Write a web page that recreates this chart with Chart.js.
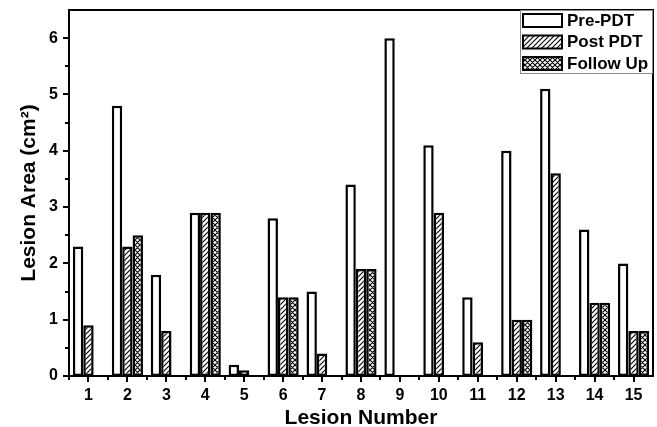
<!DOCTYPE html>
<html><head><meta charset="utf-8">
<script src="https://cdn.jsdelivr.net/npm/chart.js@4.4.1/dist/chart.umd.min.js"></script>
<style>html,body{margin:0;padding:0;background:#fff}#wrap{width:657px;height:427px}</style>
</head><body><div id="wrap"><canvas id="c" width="657" height="427"></canvas></div>
<script>
const categories = ['1','2','3','4','5','6','7','8','9','10','11','12','13','14','15'];
const prePDT   = [2.3, 4.8, 1.8, 2.9, 0.2, 2.8, 1.5, 3.4, 6.0, 4.1, 1.4, 4.0, 5.1, 2.6, 2.0];
const postPDT  = [0.9, 2.3, 0.8, 2.9, 0.1, 1.4, 0.4, 1.9, null, 2.9, 0.6, 1.0, 3.6, 1.3, 0.8];
const followUp = [null, 2.5, null, 2.9, null, 1.4, null, 1.9, null, null, null, 1.0, null, 1.3, 0.8];
const seriesNames = ['Pre-PDT', 'Post PDT', 'Follow Up'];
const yTickValues = [0, 1, 2, 3, 4, 5, 6];

const FONT = '"Liberation Sans", Arial, sans-serif';
const canvas = document.getElementById('c');
const ctx = canvas.getContext('2d');

function makePattern(cross) {
  const s = 5;
  const c = document.createElement('canvas'); c.width = s; c.height = s;
  const g = c.getContext('2d');
  g.fillStyle = '#fff'; g.fillRect(0, 0, s, s);
  g.strokeStyle = '#000'; g.lineWidth = cross ? 1.1 : 1.1;
  g.beginPath();
  g.moveTo(-1, s + 1); g.lineTo(s + 1, -1);
  g.moveTo(-1, 1); g.lineTo(1, -1);
  g.moveTo(s - 1, s + 1); g.lineTo(s + 1, s - 1);
  if (cross) {
    g.moveTo(-1, -1); g.lineTo(s + 1, s + 1);
    g.moveTo(s - 1, -1); g.lineTo(s + 1, 1);
    g.moveTo(-1, s - 1); g.lineTo(1, s + 1);
  }
  g.stroke();
  return ctx.createPattern(c, 'repeat');
}
const fills = ['#ffffff', makePattern(false), makePattern(true)];

const framePlugin = {
  id: 'frame',
  afterDraw(chart) {
    const {ctx, chartArea: a, scales: {x, y}} = chart;
    ctx.save();
    ctx.strokeStyle = '#000';
    ctx.lineWidth = 2;
    ctx.strokeRect(a.left, a.top, a.right - a.left, a.bottom - a.top);
    ctx.beginPath();
    for (let v = 0; v <= 6.0001; v += 0.5) {
      const py = Math.round(y.getPixelForValue(v));
      const len = (Math.abs(v - Math.round(v)) < 1e-6) ? 6 : 4;
      ctx.moveTo(a.left, py); ctx.lineTo(a.left - len, py);
    }
    for (let i = 0; i < categories.length; i++) {
      const px = Math.round(x.getPixelForValue(i));
      ctx.moveTo(px, a.bottom); ctx.lineTo(px, a.bottom + 6);
      if (i < categories.length - 1) {
        const mx = Math.round(x.getPixelForValue(i + 0.5));
        ctx.moveTo(mx, a.bottom); ctx.lineTo(mx, a.bottom + 4);
      }
    }
    const m0 = Math.round(x.getPixelForValue(-0.5));
    ctx.moveTo(m0, a.bottom); ctx.lineTo(m0, a.bottom + 4);
    ctx.stroke();

    // legend
    const lx = 520, ly = a.top, lw = a.right - lx, lh = 63;
    ctx.lineWidth = 1;
    ctx.strokeStyle = '#8a8a8a';
    ctx.strokeRect(lx + 0.5, ly + 0.5, lw - 1, lh);
    ctx.font = 'bold 17px ' + FONT;
    ctx.textBaseline = 'middle';
    ctx.textAlign = 'left';
    chart.data.datasets.forEach((ds, i) => {
      const cy = ly + 10 + i * 21.5;
      ctx.fillStyle = ds.backgroundColor;
      ctx.fillRect(lx + 3, cy - 6, 39, 13);
      ctx.strokeStyle = '#000';
      ctx.lineWidth = 2;
      ctx.strokeRect(lx + 3, cy - 6, 39, 13);
      ctx.fillStyle = '#000';
      ctx.fillText(ds.label, lx + 47, cy + 1);
    });
    ctx.restore();
  }
};

new Chart(canvas, {
  type: 'bar',
  data: {
    labels: categories,
    datasets: seriesNames.map((n, i) => ({
      label: n,
      data: [prePDT, postPDT, followUp][i],
      backgroundColor: fills[i],
      borderColor: '#000',
      borderWidth: 2.5,
      borderSkipped: false,
      categoryPercentage: 0.8,
      barPercentage: 1.0
    }))
  },
  options: {
    responsive: false,
    animation: false,
    devicePixelRatio: 1,
    layout: {padding: {top: 10, right: 4, left: 0, bottom: 0}},
    plugins: {legend: {display: false}, tooltip: {enabled: false}},
    scales: {
      x: {
        afterFit(s) { s.height = 51; s.paddingLeft = 0; s.paddingRight = 0; },
        grid: {display: false, drawTicks: false},
        border: {display: false},
        ticks: {color: '#000', font: {family: FONT, size: 16, weight: 'bold'}, padding: 10, maxRotation: 0},
        title: {display: true, text: 'Lesion Number', color: '#000', font: {family: FONT, size: 21, weight: 'bold', lineHeight: 1}, padding: {top: 0, bottom: -2}}
      },
      y: {
        min: 0, max: 6.5,
        afterFit(s) { s.width = 69; s.paddingTop = 0; s.paddingBottom = 0; },
        afterBuildTicks(s) { s.ticks = yTickValues.map(v => ({value: v})); },
        grid: {display: false, drawTicks: false},
        border: {display: false},
        ticks: {color: '#000', font: {family: FONT, size: 16, weight: 'bold'}, padding: 11},
        title: {display: true, text: 'Lesion Area (cm²)', color: '#000', font: {family: FONT, size: 21, weight: 'bold', lineHeight: 1}, padding: {top: 19, bottom: 0}}
      }
    }
  },
  plugins: [framePlugin]
});
</script></body></html>
